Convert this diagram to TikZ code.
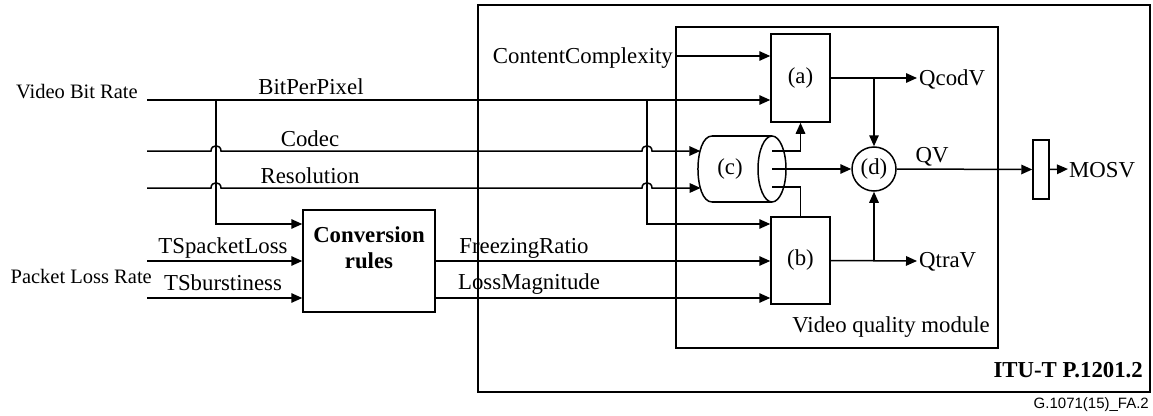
\documentclass[tikz,border=0pt]{standalone}
\usepackage{fontspec}
\setmainfont{Liberation Serif}
\setsansfont{Liberation Sans}
\usetikzlibrary{arrows.meta,calc}

\newcommand\mainsize{\fontsize{22.8}{25.5}\selectfont}
\newcommand\sidesize{\fontsize{20.5}{24}\selectfont}

\tikzset{
  wire/.style={line width=1.5pt},
  arr/.style={wire,-{Triangle[length=11pt,width=9.5pt]}},
  frame/.style={draw,line width=1.5pt,inner sep=0pt},
  blk/.style={frame,minimum width=59pt,minimum height=88pt,font=\mainsize},
  lbl/.style={inner sep=0pt,font=\mainsize,anchor=base},
  sidelbl/.style={inner sep=0pt,font=\sidesize,anchor=base east},
}

\begin{document}
\begin{tikzpicture}[x=1pt,y=-1pt]
\useasboundingbox (0,0) rectangle (1153,415);

% enclosing frames
\node[frame,minimum width=672pt,minimum height=387pt] (itu) at (814,198.5) {};
\node[frame,minimum width=322pt,minimum height=321pt] (vqm) at (837,187.5) {};

% processing blocks
\node[blk] (a) at (800.5,78) {(a)};
\node[blk,minimum height=87pt] (b) at (800.5,260.5) {(b)};
\node[frame,circle,minimum size=44pt,font=\mainsize] (d) at (874,169) {(d)};
\node[frame,minimum width=16pt,minimum height=59pt] (m) at (1041,169.5) {};
\node[frame,minimum width=132pt,minimum height=102pt] (conv) at (369,261) {};
% the base anchor of a two-line node sits on its last line
\node[lbl,align=center,font=\mainsize\bfseries] (convtxt) at (369,268) {Conversion\\rules};

% cylinder (c)
\draw[wire] (712,136) -- (772,136) (712,202) -- (772,202);
\draw[wire] (772,169) ellipse [x radius=14, y radius=33];
\draw[wire] (712,136) .. controls (693.3,136) and (693.3,202) .. (712,202);
\node[lbl,anchor=center] (c) at (730,169) {(c)};
\coordinate (cin1) at (700.3,151);
\coordinate (cin2) at (700.6,188);
\coordinate (co1) at (772,151);
\coordinate (co2) at (772,169);
\coordinate (co3) at (772,187);

% input ends
\coordinate (vbr) at (147,100);
\coordinate (codecin) at (147,151);
\coordinate (resin) at (147,188);
\coordinate (tspl) at (147,261);
\coordinate (tsb) at (147,298);
\coordinate (j1) at (216,100);
\coordinate (k1) at (216,224);
\coordinate (j2) at (647,100);
\coordinate (k2) at (647,224);
\coordinate (cc) at (676,56);

% inputs
\draw[arr] (vbr) -- (vbr -| a.west);
\draw[arr] (cc) -- (cc -| a.west);
\draw[arr] (j1) -- (k1) -- (k1 -| conv.west);
\draw[arr] (j2) -- (k2) -- (k2 -| b.west);
\draw[arr] (codecin) -- (211,151) .. controls (211,144) and (221,144) .. (221,151)
  -- (642,151) .. controls (642,144) and (652,144) .. (652,151) -- (cin1);
\draw[arr] (resin) -- (211,188) .. controls (211,181) and (221,181) .. (221,188)
  -- (642,188) .. controls (642,181) and (652,181) .. (652,188) -- (cin2);
\draw[arr] (tspl) -- (tspl -| conv.west);
\draw[arr] (tsb) -- (tsb -| conv.west);
\draw[arr] (conv.east) -- (conv.east -| b.west);
\draw[arr] (conv.east |- tsb) -- (tsb -| b.west);

% internal connections
\draw[arr] (co1) -| (a.south);
\draw[arr] (co2) -- (d.west);
\draw[wire] (co3) -| (b.north);
\coordinate (qc) at (917,78);
\coordinate (qt) at (917,261);
\draw[arr] (a.east) -- (qc);
\draw[arr] (a.east -| d.north) -- (d.north);
\draw[arr] (b.east) -- (qt);
\draw[arr] (b.east -| d.south) -- (d.south);
\draw[arr] (d.east) -- (m.west);
\coordinate (mo) at (1068,169);
\draw[arr] (m.east) -- (mo);

% labels
\node[sidelbl] (lvbr) at (138,98) {Video Bit Rate};
\node[sidelbl] (lplr) at (152,283) {Packet Loss Rate};
\node[lbl] (lbpp) at (311,94) {BitPerPixel};
\node[lbl] (lcod) at (310,146) {Codec};
\node[lbl] (lres) at (310,183) {Resolution};
\node[lbl] (ltsp) at (223,253) {TSpacketLoss};
\node[lbl] (ltsb) at (223,290) {TSburstiness};
\node[lbl] (lfr) at (524,253) {FreezingRatio};
\node[lbl] (llm) at (529,289) {LossMagnitude};
\node[lbl,anchor=base east] (lcc) at (673,63) {ContentComplexity};
\node[lbl,anchor=base west] (lqc) at (919,85) {QcodV};
\node[lbl,anchor=base west] (lqt) at (919,267) {QtraV};
\node[lbl] (lqv) at (932,162) {QV};
\node[lbl,anchor=base west] (lmos) at (1069,177) {MOSV};
\node[lbl,anchor=base east] (lvqm) at (990,332) {Video quality module};
\node[lbl,anchor=base east,font=\mainsize\bfseries] (litu) at (1143,377) {ITU-T P.1201.2};
\node[inner sep=0pt,anchor=base east,font=\sffamily\fontsize{15}{18}\selectfont] (lfig) at (1149,408) {G.1071(15)\_FA.2};
\end{tikzpicture}
\end{document}
